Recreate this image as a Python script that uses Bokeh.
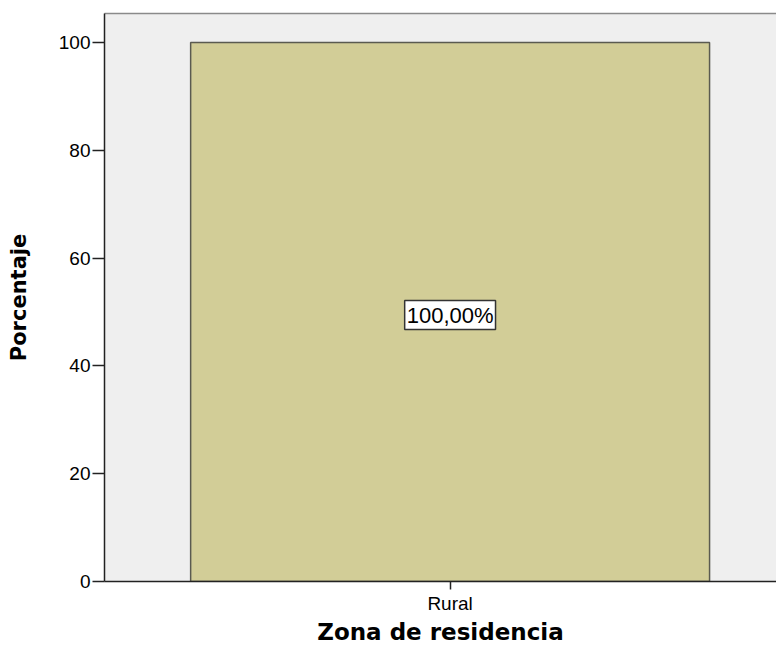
from bokeh.plotting import figure
from bokeh.models import Range1d, LinearAxis, FixedTicker, Label, ColumnDataSource
from bokeh.embed import file_html
from bokeh.resources import INLINE

categories = ["Rural"]
values = [100.0]
value_labels = ["100,00%"]
y_ticks = [0, 20, 40, 60, 80, 100]

xs = list(range(len(categories)))
src = ColumnDataSource(dict(x=xs, top=values, cat=categories))

p = figure(width=776, height=648, output_backend="svg", toolbar_location=None,
           x_range=Range1d(-0.666, 0.629), y_range=Range1d(0, 105.4),
           min_border_left=104, min_border_right=0, min_border_top=13, min_border_bottom=67)
p.background_fill_color = "#EFEFEF"
p.border_fill_color = "white"
p.outline_line_color = None
p.grid.visible = False

p.vbar(x="x", top="top", width=1.0, bottom=0, source=src,
       fill_color="#D2CD97", line_color="#5A5A50", line_width=1.5)

for xi, v, lab in zip(xs, values, value_labels):
    p.add_layout(Label(x=xi, y=v / 2, text=lab, text_align="center", text_baseline="middle",
                       text_font="Liberation Sans", text_font_size="22px", text_color="black",
                       background_fill_color="white", border_line_color="#333333",
                       border_line_width=1.5, padding=2, y_offset=-3))

# axes
p.xaxis.ticker = FixedTicker(ticks=xs)
p.xaxis.major_label_overrides = {xi: c for xi, c in zip(xs, categories)}
p.yaxis.ticker = FixedTicker(ticks=y_ticks)
for ax in (p.xaxis, p.yaxis):
    ax.axis_line_color = "#222222"
    ax.axis_line_width = 1.5
    ax.major_tick_line_color = "#222222"
    ax.major_tick_line_width = 1.5
    ax.major_tick_in = 0
    ax.minor_tick_line_color = None
    ax.major_label_text_font = "Liberation Sans"
    ax.major_label_text_font_size = "19px"
    ax.major_label_text_color = "black"
    ax.axis_label_text_font = "DejaVu Sans"
    ax.axis_label_text_font_style = "bold"
    ax.axis_label_text_color = "black"

p.yaxis.major_tick_out = 12
p.yaxis.major_label_standoff = 2
p.xaxis.major_tick_out = 8
p.xaxis.major_label_standoff = 3

p.xaxis.axis_label = "Zona de residencia"
p.xaxis.axis_label_text_font_size = "23px"
p.xaxis.axis_label_standoff = 2
p.yaxis.axis_label = "Porcentaje"
p.yaxis.axis_label_text_font_size = "21px"
p.yaxis.axis_label_standoff = 25

top_axis = LinearAxis(major_tick_line_color=None, minor_tick_line_color=None,
                      major_label_text_font_size="0px", axis_line_color="#8A8A8A",
                      axis_line_width=1.5, ticker=FixedTicker(ticks=[]))
p.add_layout(top_axis, "above")

open("out.html", "w").write(file_html(p, INLINE))
